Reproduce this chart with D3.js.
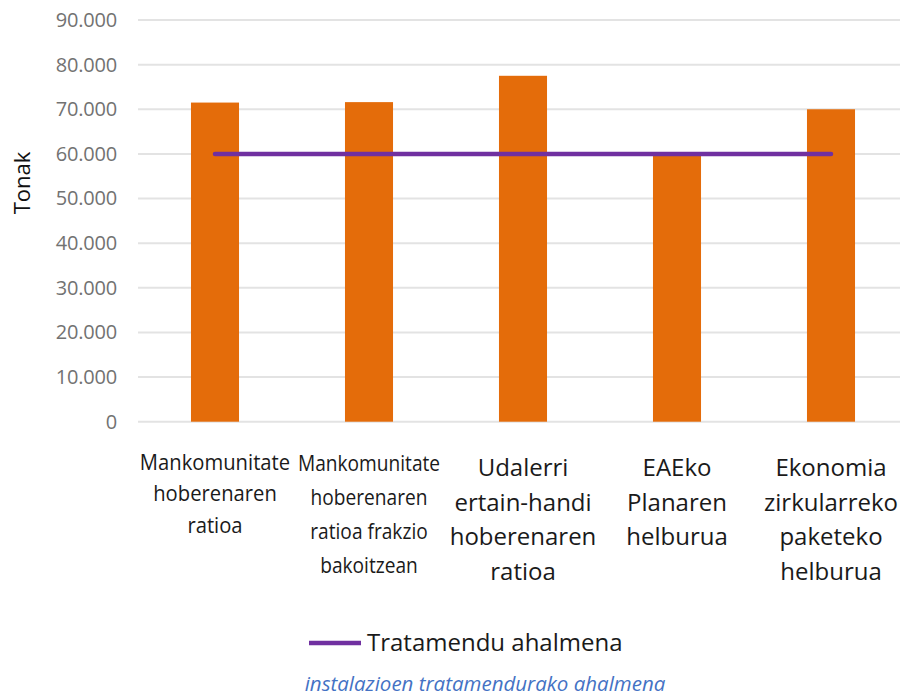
<!DOCTYPE html>
<html>
<head>
<meta charset="utf-8">
<script src="https://cdn.jsdelivr.net/npm/d3@7/dist/d3.min.js"></script>
<style>
  html, body { margin: 0; padding: 0; background: #fff; }
  svg { display: block; }
</style>
</head>
<body>
<svg id="chart" width="900" height="699"></svg>
<script>
// Tonak per scenario, compared to the installed treatment capacity
const categories = [
  ["Mankomunitate", "hoberenaren", "ratioa"],
  ["Mankomunitate", "hoberenaren", "ratioa frakzio", "bakoitzean"],
  ["Udalerri", "ertain-handi", "hoberenaren", "ratioa"],
  ["EAEko", "Planaren", "helburua"],
  ["Ekonomia", "zirkularreko", "paketeko", "helburua"]
];
const tonak = [71500, 71600, 77500, 59600, 70000];
const capacity = [60000, 60000, 60000, 60000, 60000];
const yTicks = [0, 10000, 20000, 30000, 40000, 50000, 60000, 70000, 80000, 90000];
const legendLabel = "Tratamendu ahalmena";
const yTitle = "Tonak";
const caption = "instalazioen tratamendurako ahalmena";

const svg = d3.select("#chart");
const ids = categories.map((c, i) => i);

const x = d3.scaleBand()
  .domain(ids)
  .range([138, 908])
  .paddingInner(0.688)
  .paddingOuter(0.344);

const y = d3.scaleLinear().domain([0, 90000]).range([421.7, 20]);

const fmt = d3.formatLocale({ decimal: ",", thousands: ".", grouping: [3], currency: ["", ""] }).format(",");

// horizontal gridlines
svg.append("g")
  .selectAll("line")
  .data(yTicks)
  .join("line")
  .attr("x1", 138).attr("x2", 900)
  .attr("y1", d => y(d)).attr("y2", d => y(d))
  .attr("stroke", "#e3e3e3")
  .attr("stroke-width", 2);

// y axis tick labels
const yAxis = d3.axisLeft(y).tickValues(yTicks).tickFormat(fmt).tickSize(0).tickPadding(0);
const ya = svg.append("g").attr("transform", "translate(117,0)").call(yAxis);
ya.select(".domain").remove();
ya.selectAll("text")
  .attr("font-family", "Open Sans")
  .attr("font-size", 20)
  .attr("letter-spacing", -0.2)
  .attr("fill", "#727272");

// y axis title
svg.append("text")
  .attr("transform", "translate(30,183) rotate(-90)")
  .attr("text-anchor", "middle")
  .attr("font-family", "Open Sans")
  .attr("font-size", 22)
  .attr("fill", "#111")
  .text(yTitle);

// bars
svg.append("g")
  .selectAll("rect")
  .data(tonak)
  .join("rect")
  .attr("x", (d, i) => x(i))
  .attr("width", x.bandwidth())
  .attr("y", d => y(d))
  .attr("height", d => y(0) - y(d))
  .attr("fill", "#e46c0a");

// capacity line
const line = d3.line()
  .x((d, i) => x(i) + x.bandwidth() / 2)
  .y(d => y(d));
svg.append("path")
  .datum(capacity)
  .attr("d", line)
  .attr("fill", "none")
  .attr("stroke", "#7030a0")
  .attr("stroke-width", 4.5)
  .attr("stroke-linecap", "round");

// category labels: first two in a narrower setting, rest in regular width
const labelStyle = [
  { size: 22, sx: 0.92, lh: 31.5, y0: 470 },
  { size: 22, sx: 0.87, lh: 34, y0: 471 },
  { size: 24, sx: 1, lh: 34.5, y0: 476 },
  { size: 24, sx: 1, lh: 34.5, y0: 476 },
  { size: 24, sx: 1, lh: 34.5, y0: 476 }
];
const catG = svg.append("g");
categories.forEach((lines, i) => {
  const cx = x(i) + x.bandwidth() / 2;
  const st = labelStyle[i];
  const t = catG.append("text")
    .attr("text-anchor", "middle")
    .attr("font-family", "Open Sans")
    .attr("fill", "#1a1a1a")
    .attr("font-size", st.size)
    .attr("transform", `translate(${cx},0) scale(${st.sx},1)`);
  lines.forEach((s, k) => {
    t.append("tspan").attr("x", 0).attr("y", st.y0 + k * st.lh).text(s);
  });
});

// legend
const lg = svg.append("g");
lg.append("line")
  .attr("x1", 309).attr("x2", 361)
  .attr("y1", 643).attr("y2", 643)
  .attr("stroke", "#7030a0")
  .attr("stroke-width", 4.5);
lg.append("text")
  .attr("x", 367).attr("y", 651)
  .attr("font-family", "Open Sans")
  .attr("font-size", 24)
  .attr("fill", "#1a1a1a")
  .text(legendLabel);

// caption
svg.append("text")
  .attr("x", 485).attr("y", 691)
  .attr("text-anchor", "middle")
  .attr("font-family", "Open Sans")
  .attr("font-style", "italic")
  .attr("font-size", 20.5)
  .attr("fill", "#4472c4")
  .text(caption);
</script>
</body>
</html>
